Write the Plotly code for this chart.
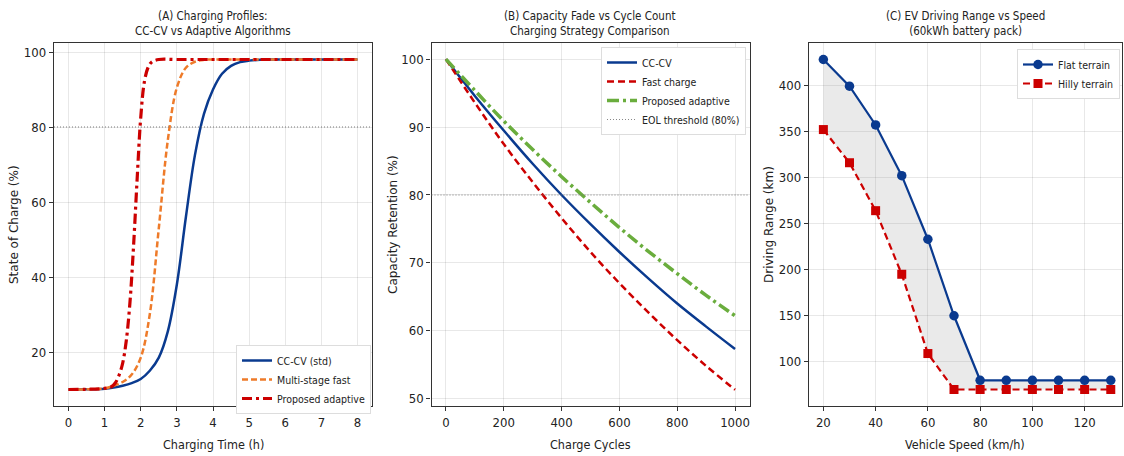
import plotly.graph_objects as go

# ---------------- Data ----------------
# Panel A: charging profiles (time in h, SOC in %)
cccv_t = [0, 0.5, 1, 1.25, 1.5, 1.75, 2, 2.25, 2.5, 2.75, 3, 3.25, 3.5, 3.75, 4, 4.25, 4.5, 4.75, 5, 5.5, 6, 7, 8]
cccv_soc = [10, 10.05, 10.2, 10.5, 11, 11.7, 12.8, 15, 18.5, 25.5, 38, 56, 72.5, 83.5, 90, 94.2, 96.3, 97.3, 97.7, 98, 98, 98, 98]
multi_t = [0, 0.5, 1, 1.25, 1.5, 1.75, 2, 2.25, 2.5, 2.75, 3, 3.25, 3.5, 3.75, 4, 5, 6, 7, 8]
multi_soc = [10, 10.05, 10.3, 11, 12, 14, 18.5, 30, 53, 76.5, 90.5, 95.8, 97.4, 97.9, 98, 98, 98, 98, 98]
adapt_t = [0, 0.5, 1, 1.2, 1.3, 1.4, 1.5, 1.6, 1.7, 1.8, 1.9, 2.0, 2.1, 2.2, 2.3, 2.5, 3, 4, 5, 6, 7, 8]
adapt_soc = [10, 10.05, 10.3, 10.8, 11.8, 13.8, 17, 23, 33, 48, 66, 82.5, 92, 95.8, 97.3, 98, 98, 98, 98, 98, 98, 98]

# Panel B: capacity retention vs cycles
cycles = [0, 100, 200, 300, 400, 500, 600, 700, 800, 900, 1000]
cap_cccv = [100, 94.6, 89.5, 84.6, 80.0, 75.7, 71.6, 67.7, 64.0, 60.6, 57.3]
cap_fast = [100, 93.6, 87.5, 81.9, 76.6, 71.6, 67.0, 62.7, 58.6, 54.8, 51.3]
cap_adapt = [100, 95.4, 90.9, 86.7, 82.7, 78.9, 75.2, 71.7, 68.4, 65.2, 62.2]
eol_threshold = 80
soc_ref = 80

# Panel C: driving range vs speed
speed = [20, 30, 40, 50, 60, 70, 80, 90, 100, 110, 120, 130]
range_flat = [428, 399, 357, 302, 233, 150, 80, 80, 80, 80, 80, 80]
range_hilly = [352, 316, 264, 195, 109, 70, 70, 70, 70, 70, 70, 70]

# ---------------- Styles ----------------
BLUE = "#0a3a8f"
ORANGE = "#ee7b2a"
RED = "#cc0000"
GREEN = "#6aad3d"
FAM = "DejaVu Sans Condensed, Liberation Sans Narrow, DejaVu Sans"
TICKFONT = dict(family=FAM, size=13, color="#222")
SMALLFONT = dict(family=FAM, size=10.5, color="#222")
YTITLEFONT = dict(family="DejaVu Sans, Verdana, sans-serif", size=12, color="#222")

fig = go.Figure()

# Panel A
fig.add_trace(go.Scatter(x=cccv_t, y=cccv_soc, mode="lines", name="CC-CV (std)",
                         line=dict(color=BLUE, width=2.5, shape="spline", smoothing=1.0),
                         xaxis="x", yaxis="y", legend="legend"))
fig.add_trace(go.Scatter(x=multi_t, y=multi_soc, mode="lines", name="Multi-stage fast",
                         line=dict(color=ORANGE, width=2.5, dash="6px,3px", shape="spline", smoothing=1.0),
                         xaxis="x", yaxis="y", legend="legend"))
fig.add_trace(go.Scatter(x=adapt_t, y=adapt_soc, mode="lines", name="Proposed adaptive",
                         line=dict(color=RED, width=3.2, dash="10px,4px,3px,4px", shape="spline", smoothing=1.0),
                         xaxis="x", yaxis="y", legend="legend"))

# Panel B
fig.add_trace(go.Scatter(x=cycles, y=cap_cccv, mode="lines", name="CC-CV",
                         line=dict(color=BLUE, width=2.5, shape="spline"),
                         xaxis="x2", yaxis="y2", legend="legend2"))
fig.add_trace(go.Scatter(x=cycles, y=cap_fast, mode="lines", name="Fast charge",
                         line=dict(color=RED, width=2.5, dash="7px,4px", shape="spline"),
                         xaxis="x2", yaxis="y2", legend="legend2"))
fig.add_trace(go.Scatter(x=cycles, y=cap_adapt, mode="lines", name="Proposed adaptive",
                         line=dict(color=GREEN, width=3.5, dash="12px,4px,3px,4px", shape="spline"),
                         xaxis="x2", yaxis="y2", legend="legend2"))
fig.add_trace(go.Scatter(x=[None], y=[None], mode="lines", name="EOL threshold (80%)",
                         line=dict(color="#888", width=1, dash="1px,2px"),
                         xaxis="x2", yaxis="y2", legend="legend2"))

# Panel C: fill between
fig.add_trace(go.Scatter(x=speed, y=range_flat, mode="lines", line=dict(width=0, color="rgba(0,0,0,0)"),
                         showlegend=False, hoverinfo="skip", xaxis="x3", yaxis="y3"))
fig.add_trace(go.Scatter(x=speed, y=range_hilly, mode="lines", line=dict(width=0, color="rgba(0,0,0,0)"),
                         fill="tonexty", fillcolor="rgba(150,150,150,0.2)",
                         showlegend=False, hoverinfo="skip", xaxis="x3", yaxis="y3"))
fig.add_trace(go.Scatter(x=speed, y=range_flat, mode="lines+markers", name="Flat terrain",
                         line=dict(color=BLUE, width=2.2), marker=dict(symbol="circle", size=9.5, color=BLUE),
                         xaxis="x3", yaxis="y3", legend="legend3"))
fig.add_trace(go.Scatter(x=speed, y=range_hilly, mode="lines+markers", name="Hilly terrain",
                         line=dict(color=RED, width=2.2, dash="7px,4px"), marker=dict(symbol="square", size=9, color=RED),
                         xaxis="x3", yaxis="y3", legend="legend3"))

# Reference lines
fig.add_shape(type="line", xref="x domain", yref="y", x0=0, x1=1, y0=soc_ref, y1=soc_ref,
              line=dict(color="#777", width=1, dash="1px,2px"))
fig.add_shape(type="line", xref="x2 domain", yref="y2", x0=0, x1=1, y0=eol_threshold, y1=eol_threshold,
              line=dict(color="#777", width=1, dash="1px,2px"))

axis_common = dict(showgrid=True, gridcolor="rgba(0,0,0,0.09)", gridwidth=1, zeroline=False,
                   showline=True, linecolor="#333", linewidth=1.4, mirror=True,
                   ticks="outside", ticklen=4, tickcolor="#333", tickfont=TICKFONT)

legend_common = dict(xanchor="right", yanchor="top", font=SMALLFONT, bgcolor="white",
                     bordercolor="#ddd", borderwidth=1, itemwidth=30, traceorder="normal",
                     tracegroupgap=0)

Y0, Y1 = 1 - 406 / 456, 1 - 43 / 456
fig.update_layout(
    width=1124, height=456, margin=dict(l=0, r=0, t=0, b=0),
    plot_bgcolor="white", paper_bgcolor="white",
    xaxis=dict(domain=[54 / 1124, 372 / 1124], range=[-0.4, 8.4], dtick=1, anchor="y", **axis_common),
    yaxis=dict(domain=[Y0, Y1], range=[5.6, 102.4], tickvals=[20, 40, 60, 80, 100], anchor="x", **axis_common),
    xaxis2=dict(domain=[431.5 / 1124, 749.5 / 1124], range=[-50, 1050], dtick=200, anchor="y2", **axis_common),
    yaxis2=dict(domain=[Y0, Y1], range=[48.9, 102.4], dtick=10, anchor="x2", **axis_common),
    xaxis3=dict(domain=[809 / 1124, 1122 / 1124], range=[14.5, 134.3], tickvals=[20, 40, 60, 80, 100, 120], anchor="y3", **axis_common),
    yaxis3=dict(domain=[Y0, Y1], range=[52.1, 445.9], tickvals=[100, 150, 200, 250, 300, 350, 400], anchor="x3", **axis_common),
    legend=dict(x=371 / 1124, y=1 - 345 / 456, **legend_common),
    legend2=dict(x=746 / 1124, y=1 - 47 / 456, **legend_common),
    legend3=dict(x=1120 / 1124, y=1 - 49 / 456, **legend_common),
    showlegend=True,
)

# Titles
titles = [
    (213, "(A) Charging Profiles:<br>CC-CV vs Adaptive Algorithms"),
    (590, "(B) Capacity Fade vs Cycle Count<br>Charging Strategy Comparison"),
    (965, "(C) EV Driving Range vs Speed<br>(60kWh battery pack)"),
]
for xc, txt in titles:
    fig.add_annotation(x=xc / 1124, y=1 - 24 / 456, xref="paper", yref="paper", text=txt,
                       showarrow=False, font=dict(family=FAM, size=11.5, color="#222"),
                       xanchor="center", yanchor="middle")

xtitles = [(213, "Charging Time (h)"), (590, "Charge Cycles"), (965, "Vehicle Speed (km/h)")]
for xc, txt in xtitles:
    fig.add_annotation(x=xc / 1124, y=1 - 444 / 456, xref="paper", yref="paper", text=txt,
                       showarrow=False, font=dict(family=FAM, size=12.5, color="#222"),
                       xanchor="center", yanchor="middle")

ytitles = [(14, "State of Charge (%)"), (393, "Capacity Retention (%)"), (769, "Driving Range (km)")]
for xc, txt in ytitles:
    fig.add_annotation(x=xc / 1124, y=1 - 225 / 456, xref="paper", yref="paper", text=txt,
                       showarrow=False, textangle=-90, font=YTITLEFONT,
                       xanchor="center", yanchor="middle")

fig.write_html("out.html", config={"displayModeBar": False})

# remove default page margins so the figure sits at the top-left corner
with open("out.html", "r", encoding="utf-8") as f:
    html = f.read()
html = html.replace("<head>", "<head><style>html,body{margin:0;padding:0;overflow:hidden;}</style>", 1)
with open("out.html", "w", encoding="utf-8") as f:
    f.write(html)
